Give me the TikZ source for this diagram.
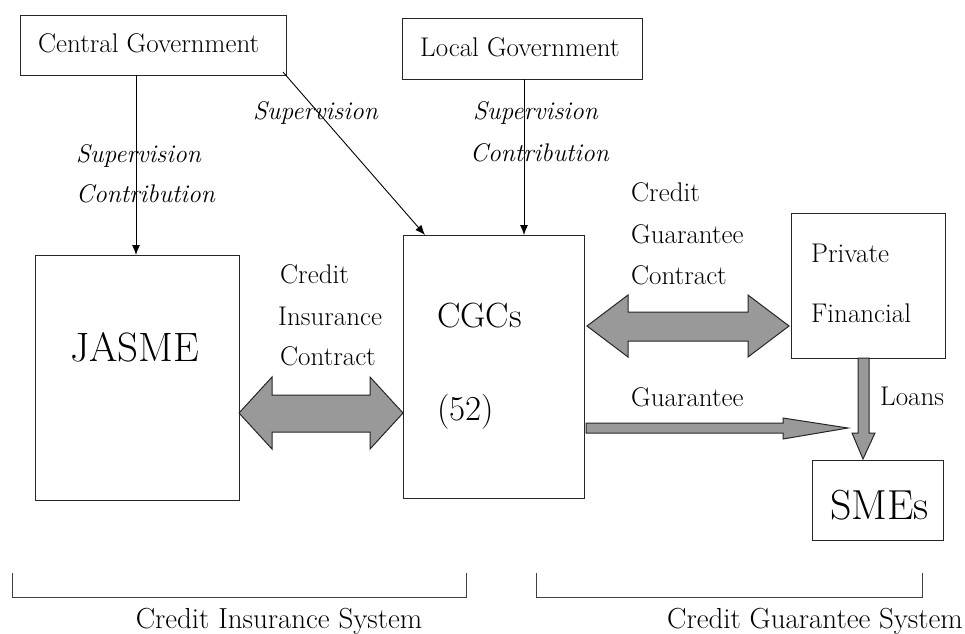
\documentclass[tikz,border=0pt]{standalone}
\usetikzlibrary{arrows.meta,calc}
\begin{document}
\begin{tikzpicture}[x=1pt,y=-1pt,
  box/.style={draw=black!85,line width=0.9pt,inner sep=0pt},
  txt/.style={font=\fontsize{27}{31}\selectfont,inner sep=0pt,anchor=base west},
  itxt/.style={font=\fontsize{25.5}{30}\selectfont\itshape,inner sep=0pt,anchor=base west},
  sys/.style={font=\fontsize{29}{33}\selectfont,inner sep=0pt,anchor=base},
  big/.style={font=\fontsize{35}{40}\selectfont,inner sep=0pt,anchor=base west},
  thin/.style={line width=0.9pt,-{Latex[length=10pt,width=8pt]}},
  fat/.style={draw=black!85,line width=1pt,fill=black!40,line join=miter}
]
\useasboundingbox (0,0) rectangle (965,633);
% boxes
\draw[box] (20,15) rectangle (286,75);
\node[txt] (cgt) at (38,52) {Central Government};
\draw[box] (402,18) rectangle (642,79);
\node[txt] (lgt) at (420,56) {Local Government};
\draw[box] (35,255) rectangle (239,500);
\node[big,font=\fontsize{41}{46}\selectfont] (jas) at (70,361) {JASME};
\draw[box] (403,235) rectangle (584,498);
\node[big] (cgc) at (437,327) {CGCs};
\node[big] (n52) at (437,420) {(52)};
\draw[box] (791,213) rectangle (945,358);
\node[txt] (pri) at (811,262) {Private};
\node[txt] (fin) at (811,322) {Financial};
\draw[box] (812,460) rectangle (943,540);
\node[big,font=\fontsize{42}{46}\selectfont] (sme) at (830,519) {SMEs};
% named anchors for connectors
\coordinate (cgB) at (136,75);
\coordinate (jasT) at (136,255);
\coordinate (cgR) at (283,72);
\coordinate (cgcTL) at (425,235);
\coordinate (lgB) at (524,79);
\coordinate (cgcT) at (524,235);
\draw[thin] (cgB) -- (jasT);
\draw[thin] (cgR) -- (cgcTL);
\draw[thin] (lgB) -- (cgcT);
% labels
\node[itxt] (l1) at (76,162) {Supervision};
\node[itxt] (l2) at (76,202) {Contribution};
\node[itxt] (l3) at (253,119) {Supervision};
\node[itxt] (l4) at (473,119) {Supervision};
\node[itxt] (l5) at (470,161) {Contribution};
\node[txt] (c1) at (280,283) {Credit};
\node[txt] (c2) at (278,325) {Insurance};
\node[txt] (c3) at (280,365) {Contract};
\node[txt] (d1) at (631,201) {Credit};
\node[txt] (d2) at (631,243) {Guarantee};
\node[txt] (d3) at (631,284) {Contract};
\node[txt] (g1) at (631,406) {Guarantee};
\node[txt] (lo) at (880,405) {Loans};
% fat arrows
\draw[fat] (239,413) -- (272,377) -- (272,395) -- (370,395) -- (370,377) -- (403,413)
  -- (370,449) -- (370,432) -- (272,432) -- (272,449) -- cycle;
\draw[fat] (587,326) -- (628,295) -- (628,312) -- (748,312) -- (748,295) -- (789,326)
  -- (748,357) -- (748,341) -- (628,341) -- (628,357) -- cycle;
\draw[fat] (586,423) -- (783,423) -- (783,418) -- (848,428) -- (783,439) -- (783,433)
  -- (586,433) -- cycle;
\draw[fat] (858,358) -- (869,358) -- (869,433) -- (875,433) -- (863,459) -- (852,433)
  -- (858,433) -- cycle;
% brackets
\draw[black!75,line width=0.9pt] (12,573) -- (12,597) -- (466,597) -- (466,573);
\draw[black!75,line width=0.9pt] (536,573) -- (536,597) -- (922,597) -- (922,573);
\node[sys] (s1) at (279,628) {Credit Insurance System};
\node[sys] (s2) at (815,628) {Credit Guarantee System};
\end{tikzpicture}
\end{document}
